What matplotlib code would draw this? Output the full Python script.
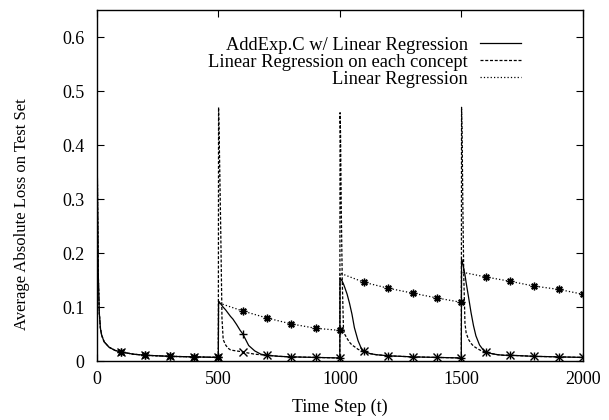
import numpy as np
import matplotlib.pyplot as plt

plt.rcParams['font.family'] = ['Liberation Serif', 'DejaVu Serif']
plt.rcParams['font.size'] = 13

# the three methods are identical on the first concept (t = 0..500)
t_first = [0, 3, 6, 10, 15, 20, 30, 50, 75, 100, 150, 200, 300, 400, 500]
loss_first = [0.47, 0.30, 0.16, 0.09, 0.06, 0.048, 0.036, 0.026, 0.020, 0.017,
              0.013, 0.011, 0.009, 0.008, 0.007]

# detailed time steps after each concept change
t_after = [501, 503, 506, 510, 515, 520, 530, 540, 550, 560, 575, 590, 600,
           625, 650, 675, 700, 750, 800, 900, 1000,
           1001, 1003, 1006, 1010, 1015, 1020, 1030, 1040, 1050, 1060, 1075, 1090, 1100,
           1125, 1150, 1175, 1200, 1250, 1300, 1400, 1500,
           1501, 1503, 1506, 1510, 1515, 1520, 1530, 1540, 1550, 1560, 1575, 1590, 1600,
           1625, 1650, 1675, 1700, 1750, 1800, 1900, 2000]

addexp_after = [0.111, 0.110, 0.108, 0.106, 0.103, 0.100, 0.095, 0.089, 0.083, 0.078,
                0.068, 0.057, 0.051, 0.029, 0.019, 0.013, 0.011, 0.009, 0.008, 0.007, 0.006,
                0.154, 0.153, 0.151, 0.148, 0.143, 0.137, 0.124, 0.107, 0.087, 0.062,
                0.038, 0.022, 0.018, 0.014, 0.012, 0.011, 0.010, 0.009, 0.008, 0.007, 0.006,
                0.189, 0.186, 0.180, 0.172, 0.160, 0.145, 0.118, 0.090, 0.066, 0.047,
                0.030, 0.021, 0.017, 0.014, 0.012, 0.011, 0.011, 0.010, 0.009, 0.008, 0.007]

concept_after = [0.47, 0.43, 0.35, 0.24, 0.08, 0.04, 0.030, 0.024, 0.021, 0.020,
                 0.019, 0.018, 0.017, 0.015, 0.013, 0.012, 0.011, 0.009, 0.008, 0.007, 0.006,
                 0.46, 0.42, 0.28, 0.15, 0.06, 0.05, 0.042, 0.035, 0.030, 0.027,
                 0.022, 0.019, 0.018, 0.014, 0.012, 0.011, 0.010, 0.009, 0.008, 0.007, 0.006,
                 0.47, 0.43, 0.30, 0.16, 0.07, 0.052, 0.040, 0.033, 0.028, 0.025,
                 0.021, 0.018, 0.017, 0.014, 0.012, 0.011, 0.011, 0.010, 0.009, 0.008, 0.007]

t_lr_after = [501, 600, 700, 800, 900, 1000,
              1001, 1100, 1200, 1300, 1400, 1500,
              1501, 1600, 1700, 1800, 1900, 2000]
lr_after = [0.108, 0.093, 0.080, 0.069, 0.061, 0.057,
            0.163, 0.146, 0.135, 0.126, 0.117, 0.109,
            0.165, 0.156, 0.148, 0.139, 0.133, 0.124]

series = [
    ('AddExp.C w/ Linear Regression', t_first + t_after, loss_first + addexp_after,
     '-', '+'),
    ('Linear Regression on each concept', t_first + t_after, loss_first + concept_after,
     (0, (2.4, 1.4)), 'x'),
    ('Linear Regression', t_first + t_lr_after, loss_first + lr_after,
     (0, (1, 1.7)), (8, 2, 0)),
]

fig = plt.figure(figsize=(6.09, 4.2), dpi=100)
ax = fig.add_axes([0.159, 0.140, 0.798, 0.836])

for label, t, y, ls, mk in series:
    t = np.array(t)
    y = np.array(y)
    ax.plot(t, y, color='black', lw=0.9, linestyle=ls, label=label)
    pts = (t % 100 == 0) & (t > 0)
    ax.plot(t[pts], y[pts], color='black', linestyle='none', marker=mk,
            markersize=5.5, markeredgewidth=1.0)

ax.set_xlim(0, 2000)
ax.set_ylim(0, 0.65)
ax.set_xticks([0, 500, 1000, 1500, 2000])
ax.set_yticks([0, 0.1, 0.2, 0.3, 0.4, 0.5, 0.6])
ax.set_yticklabels(['0', '0.1', '0.2', '0.3', '0.4', '0.5', '0.6'])
ax.tick_params(direction='in', top=True, right=True, length=5, width=0.8)
ax.tick_params(axis='x', pad=7)
ax.tick_params(axis='y', pad=9)
for s in ax.spines.values():
    s.set_linewidth(1.0)

ax.set_xlabel('Time Step (t)', labelpad=8)
ax.set_ylabel('Average Absolute Loss on Test Set', fontsize=12)
ax.yaxis.set_label_coords(-0.137, 0.42)

ax.legend(loc='upper right', bbox_to_anchor=(0.887, 0.945), frameon=False,
          fontsize=13.3, markerfirst=False, handlelength=2.2, handletextpad=0.65,
          labelspacing=0.0, borderaxespad=0)

fig.savefig('out.png', dpi=100)
